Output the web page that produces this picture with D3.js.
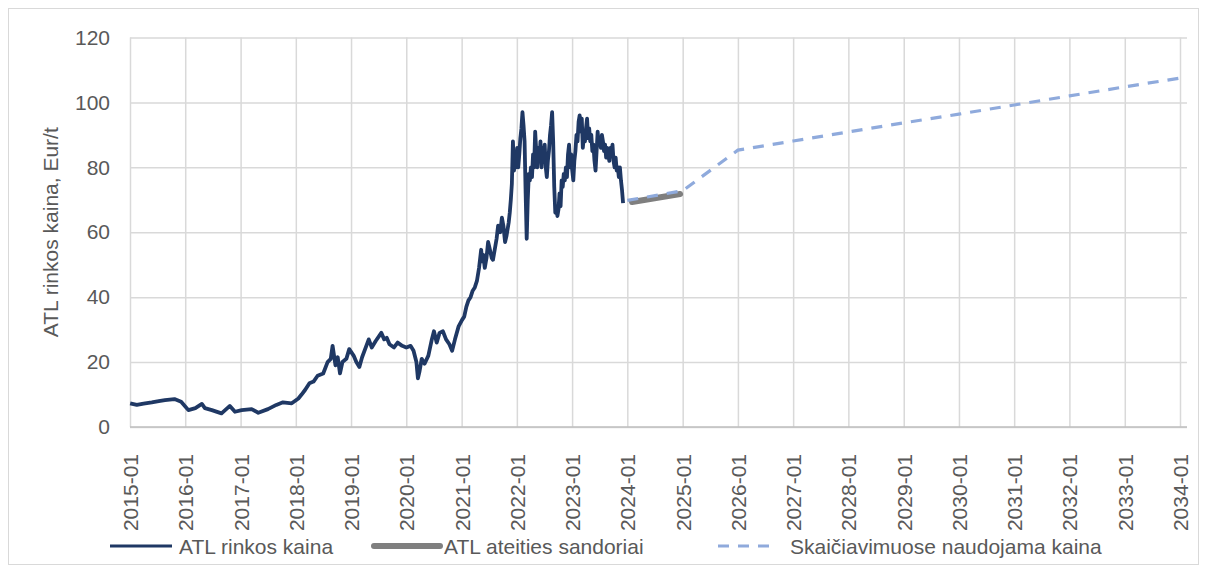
<!DOCTYPE html>
<html>
<head>
<meta charset="utf-8">
<script src="https://cdn.jsdelivr.net/npm/d3@7"></script>
<style>
  body { margin: 0; background: #fff; }
  text { font-family: "Liberation Sans", Arial, sans-serif; }
</style>
</head>
<body>
<svg id="chart" width="1207" height="573"></svg>
<script>
// ATL (EU ETS allowance) market price, futures and the price path used in calculations
const spotDates = [
  "2015-01-02","2015-02-15","2015-04-01","2015-05-25","2015-07-10","2015-08-20","2015-10-22","2015-12-05",
  "2016-01-22","2016-03-08","2016-04-20","2016-05-10","2016-06-25","2016-08-28","2016-10-22","2016-11-25",
  "2017-01-08","2017-03-15","2017-04-28","2017-07-01","2017-08-25","2017-10-08","2017-12-05",
  "2018-01-18","2018-02-08","2018-03-03","2018-04-01","2018-04-28","2018-05-25","2018-07-01","2018-07-30",
  "2018-08-20","2018-09-01","2018-09-20","2018-10-05","2018-10-20","2018-11-05","2018-12-01","2018-12-20",
  "2019-01-18","2019-02-05","2019-02-25","2019-03-15","2019-04-12","2019-04-28","2019-05-18","2019-06-13",
  "2019-07-20","2019-08-08","2019-08-25","2019-09-12","2019-10-12","2019-11-05","2019-12-05",
  "2020-01-01","2020-01-30","2020-02-18","2020-03-08","2020-03-18","2020-03-28","2020-04-12","2020-05-01",
  "2020-05-26","2020-06-18","2020-07-02","2020-07-20","2020-08-08","2020-08-30","2020-09-20","2020-10-12",
  "2020-10-30","2020-11-18","2020-12-12",
  "2021-01-04","2021-01-18","2021-02-01","2021-02-15","2021-03-01","2021-03-15","2021-03-29","2021-04-12",
  "2021-04-26","2021-05-10","2021-05-17","2021-05-24","2021-06-03","2021-06-14","2021-06-25","2021-07-05",
  "2021-07-19","2021-07-27","2021-08-09","2021-08-20","2021-08-30","2021-09-13","2021-09-24","2021-10-04",
  "2021-10-15","2021-10-25","2021-11-01","2021-11-08","2021-11-15","2021-11-22","2021-11-29","2021-12-06",
  "2021-12-13","2021-12-20","2021-12-27",
  "2022-01-03","2022-01-10","2022-01-17","2022-01-24","2022-01-31","2022-02-07","2022-02-14","2022-02-21",
  "2022-02-28","2022-03-07","2022-03-14","2022-03-21","2022-03-28","2022-04-04","2022-04-11","2022-04-18",
  "2022-04-25","2022-05-02","2022-05-09","2022-05-16","2022-05-23","2022-05-30","2022-06-06","2022-06-13",
  "2022-06-20","2022-06-27","2022-07-04","2022-07-11","2022-07-18","2022-07-25","2022-08-01","2022-08-08",
  "2022-08-15","2022-08-22","2022-08-29","2022-09-05","2022-09-12","2022-09-19","2022-09-26","2022-10-03",
  "2022-10-10","2022-10-17","2022-10-24","2022-10-31","2022-11-07","2022-11-14","2022-11-21","2022-11-28",
  "2022-12-05","2022-12-12","2022-12-19","2022-12-26",
  "2023-01-02","2023-01-09","2023-01-16","2023-01-23","2023-01-30","2023-02-06","2023-02-13","2023-02-20",
  "2023-02-27","2023-03-06","2023-03-13","2023-03-20","2023-03-27","2023-04-03","2023-04-10","2023-04-17",
  "2023-04-24","2023-05-01","2023-05-08","2023-05-15","2023-05-22","2023-05-29","2023-06-05","2023-06-12",
  "2023-06-19","2023-06-26","2023-07-03","2023-07-10","2023-07-17","2023-07-24","2023-07-31","2023-08-07",
  "2023-08-14","2023-08-21","2023-08-28","2023-09-04","2023-09-11","2023-09-18","2023-09-25","2023-10-02",
  "2023-10-09","2023-10-16","2023-10-23","2023-10-30","2023-11-06","2023-11-13","2023-11-20","2023-11-27",
  "2023-12-04"
];
const spotPrices = [
  7.3, 6.8, 7.2, 7.6, 8.0, 8.3, 8.6, 7.8,
  5.2, 5.8, 7.1, 5.8, 5.2, 4.2, 6.5, 4.7,
  5.2, 5.5, 4.4, 5.5, 6.8, 7.6, 7.3,
  8.8, 10, 11.4, 13.5, 14, 15.8, 16.5, 20,
  21, 25, 19, 21.5, 16.5, 20, 21, 24,
  22, 20, 18.5, 21.5, 25, 27, 24.5, 26.5,
  29, 27, 27.5, 25.5, 24.5, 26, 25,
  24.5, 25, 23.5, 20, 15, 17, 21, 19.5,
  22, 27, 29.5, 26, 29, 29.5, 27, 25.5,
  23.5, 27, 31,
  33, 34, 37, 39, 40, 42, 43, 45,
  49, 54.6, 51, 53, 49, 52, 57, 55,
  52, 51.5, 55, 58, 62, 60, 64.5, 62,
  57, 59, 61, 63, 66, 70, 75, 88,
  79, 84, 80,
  86, 80, 84, 89, 92, 97, 93, 88,
  72, 58, 70, 78, 76, 80, 77, 84,
  80, 91, 85, 80, 86, 82, 88, 80,
  86, 82, 87, 80, 77, 82, 85, 90,
  93, 97, 88, 74, 66, 68, 65, 67,
  72, 68, 76, 74, 78, 76, 80, 77,
  84, 87, 80, 84,
  79, 76, 82, 85, 90, 88, 94, 96,
  91, 95, 86, 90, 88, 92, 95, 89,
  92, 88, 90, 85, 87, 82, 79, 85,
  91, 87, 89, 86, 90, 88, 85, 87,
  83, 86, 84, 82, 86, 84, 87, 82,
  80, 83, 79, 80, 77, 80, 76, 73,
  69
];
const futuresDates = ["2024-02-01", "2024-12-15"];
const futuresPrices = [69.3, 71.8];
const forecastDates = ["2024-01-01","2025-01-01","2026-01-01","2027-01-01","2028-01-01","2029-01-01",
  "2030-01-01","2031-01-01","2032-01-01","2033-01-01","2034-01-01"];
const forecastPrices = [69.8, 72.8, 85.3, 88.1, 90.9, 93.7, 96.4, 99.2, 102.0, 104.8, 107.5];
const yTicks = [0, 20, 40, 60, 80, 100, 120];
const xTickYears = d3.range(2015, 2035);
const seriesNames = ["ATL rinkos kaina", "ATL ateities sandoriai", "Skaičiavimuose naudojama kaina"];
const yTitle = "ATL rinkos kaina, Eur/t";

const parse = d3.timeParse("%Y-%m-%d");
const zip = (ds, vs) => ds.map((d, i) => ({ date: parse(d), value: vs[i] }));
const spot = zip(spotDates, spotPrices);
const futures = zip(futuresDates, futuresPrices);
const forecast = zip(forecastDates, forecastPrices);

const svg = d3.select("#chart");
const W = 1207, H = 573;
const plotLeft = 130, lastTickX = 1180, plotRight = 1187, plotTop = 37.5, plotBottom = 427;

const x = d3.scaleTime()
  .domain([new Date(2015, 0, 1), new Date(2034, 0, 1)])
  .range([plotLeft, lastTickX]);
const y = d3.scaleLinear().domain([0, 120]).range([plotBottom, plotTop]);

const labelColor = "#595959";
const gridColor = "#d9d9d9";
const fontSize = 21;

// outer chart frame
svg.append("rect")
  .attr("x", 8.5).attr("y", 8.5).attr("width", W - 17).attr("height", H - 17)
  .attr("fill", "#fff").attr("stroke", "#d9d9d9").attr("stroke-width", 1);

// horizontal gridlines + y labels
const yAxis = svg.append("g")
  .attr("transform", `translate(${plotLeft},0)`)
  .call(d3.axisLeft(y).tickValues(yTicks).tickSize(-(plotRight - plotLeft)).tickPadding(20));
yAxis.select(".domain").remove();
yAxis.selectAll(".tick line").attr("stroke", gridColor).attr("stroke-width", 1.5);
yAxis.selectAll(".tick text")
  .attr("fill", labelColor).attr("font-size", fontSize)
  .style("font-family", "'Liberation Sans', Arial, sans-serif");

// vertical gridlines + rotated date labels
const xAxis = svg.append("g")
  .attr("transform", `translate(0,${plotBottom})`)
  .call(d3.axisBottom(x)
    .tickValues(xTickYears.map(yr => new Date(yr, 0, 1)))
    .tickSize(-(plotBottom - plotTop))
    .tickFormat(d3.timeFormat("%Y-%m")));
xAxis.select(".domain").remove();
xAxis.selectAll(".tick line").attr("stroke", gridColor).attr("stroke-width", 1.5);
xAxis.selectAll(".tick text")
  .attr("fill", labelColor).attr("font-size", fontSize)
  .style("font-family", "'Liberation Sans', Arial, sans-serif")
  .attr("transform", "rotate(-90)")
  .attr("text-anchor", "end")
  .attr("x", -27).attr("y", 0).attr("dy", "0.36em");

// category axis line
svg.append("line")
  .attr("x1", plotLeft).attr("x2", plotRight).attr("y1", y(0)).attr("y2", y(0))
  .attr("stroke", "#bfbfbf").attr("stroke-width", 1.5);

// y axis title
svg.append("text")
  .attr("transform", `translate(58,${(plotTop + plotBottom) / 2}) rotate(-90)`)
  .attr("text-anchor", "middle")
  .attr("fill", labelColor).attr("font-size", fontSize)
  .text(yTitle);

const line = d3.line().x(d => x(d.date)).y(d => y(d.value));

const styles = [
  { color: "#1f3864", width: 3.8, dash: null },
  { color: "#7f7f7f", width: 6, dash: null },
  { color: "#8faadc", width: 3.2, dash: "11,9" }
];

svg.append("path").datum(futures)
  .attr("d", line).attr("fill", "none")
  .attr("stroke", styles[1].color).attr("stroke-width", styles[1].width)
  .attr("stroke-linecap", "round");

svg.append("path").datum(spot)
  .attr("d", line).attr("fill", "none")
  .attr("stroke", styles[0].color).attr("stroke-width", styles[0].width)
  .attr("stroke-linejoin", "round");

svg.append("path").datum(forecast)
  .attr("d", line).attr("fill", "none")
  .attr("stroke", styles[2].color).attr("stroke-width", styles[2].width)
  .attr("stroke-dasharray", styles[2].dash);

// legend
const legendY = 546;
const legendItems = [
  { x1: 110, x2: 172, tx: 179 },
  { x1: 374, x2: 440, tx: 444 },
  { x1: 718, x2: 778, tx: 790 }
];
const lg = svg.append("g");
legendItems.forEach((it, i) => {
  lg.append("line")
    .attr("x1", it.x1).attr("x2", it.x2).attr("y1", legendY).attr("y2", legendY)
    .attr("stroke", styles[i].color).attr("stroke-width", i === 0 ? 3.2 : styles[i].width)
    .attr("stroke-linecap", i === 1 ? "round" : "butt")
    .attr("stroke-dasharray", styles[i].dash);
  lg.append("text")
    .attr("x", it.tx).attr("y", legendY).attr("dy", "0.36em")
    .attr("fill", labelColor).attr("font-size", fontSize)
    .text(seriesNames[i]);
});
</script>
</body>
</html>
